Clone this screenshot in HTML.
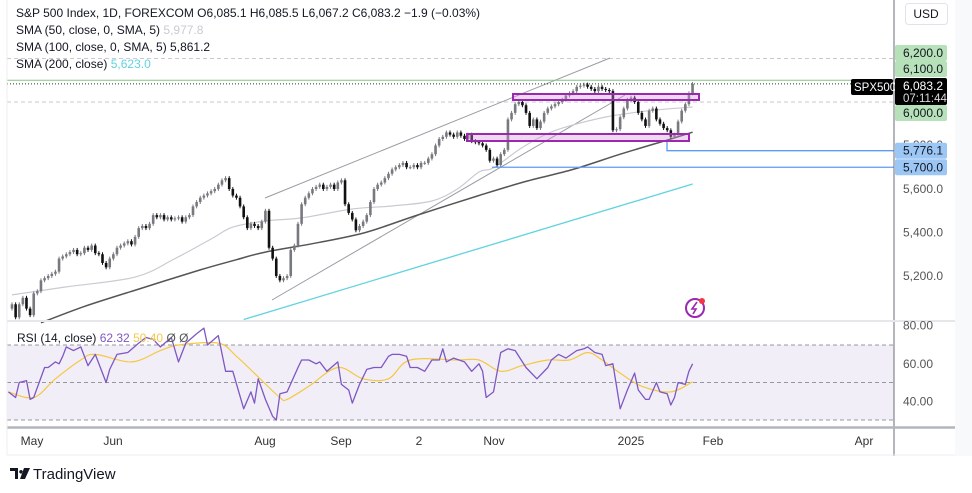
<!DOCTYPE html>
<html><head><meta charset="utf-8"><style>
body{margin:0;background:#fff;width:972px;height:488px;overflow:hidden;font-family:"Liberation Sans",sans-serif}
svg text{font-family:"Liberation Sans",sans-serif}
</style></head><body>
<svg id="c" width="972" height="488" xmlns="http://www.w3.org/2000/svg">
<rect x="0" y="0" width="972" height="488" fill="#fff"/>
<rect x="955" y="0" width="17" height="456" fill="#f8f9fb"/>
<rect x="7" y="345" width="887" height="75" fill="#f1eef8"/>
<g id="grid"></g>
<g id="marks"></g>
<g id="overlay"></g>
<line x1="894" y1="0" x2="894" y2="456" stroke="#6a6d78" stroke-width="1"/>
<line x1="7" y1="321" x2="955" y2="321" stroke="#e6e7ea" stroke-width="2"/>
<line x1="7" y1="427.5" x2="955" y2="427.5" stroke="#b2b5be" stroke-width="2.5"/>
<line x1="7" y1="455" x2="955" y2="455" stroke="#eceef1" stroke-width="1"/>
<line x1="7" y1="0" x2="7" y2="455" stroke="#eceef1" stroke-width="1"/>
<g id="axis"></g>
<g font-size="12" fill="#131722">
<text x="16" y="17">S&amp;P 500 Index, 1D, FOREXCOM  O6,085.1  H6,085.5  L6,067.2  C6,083.2  −1.9 (−0.03%)</text>
<text x="16" y="34">SMA (50, close, 0, SMA, 5) <tspan fill="#c9cbd1">5,977.8</tspan></text>
<text x="16" y="51">SMA (100, close, 0, SMA, 5)  5,861.2</text>
<text x="16" y="68">SMA (200, close)  <tspan fill="#5fd3e0">5,623.0</tspan></text>
<text x="17" y="342">RSI (14, close) <tspan fill="#7e57c2">62.32</tspan> <tspan fill="#f2c94c">50.40</tspan> <tspan fill="#555">Ø  Ø</tspan></text>
</g>
<g>
<rect x="905.5" y="3.5" width="42" height="21" rx="3" fill="#fff" stroke="#e0e3eb"/>
<text x="926" y="18" font-size="12" text-anchor="middle" fill="#131722">USD</text>
</g>
<g>
<circle cx="695" cy="308" r="9" fill="none" stroke="#9c27b0" stroke-width="2"/>
<path d="M697 302 L692 309 L696 309 L693 314" fill="none" stroke="#9c27b0" stroke-width="1.6"/>
<circle cx="702" cy="301" r="3" fill="#f23645"/>
</g>
<g>
<path d="M10 468h8v11h-3v-8h-5z M21 470a1.8 1.8 0 1 0 0.01 0z M24 468h6l-5 11h-5z" fill="#131722"/>
<text x="33" y="479" font-size="15" fill="#131722">TradingView</text>
</g>
</svg>
<script>
const closes=[5070,5010,5070,5100,5050,5020,5120,5130,5180,5190,
5200,5210,5220,5280,5290,5300,5310,5320,5300,5305,
5330,5320,5340,5305,5300,5260,5240,5280,5300,5330,
5340,5350,5360,5345,5380,5420,5430,5420,5440,5480,
5470,5480,5460,5470,5460,5465,5470,5450,5470,5480,
5520,5540,5560,5570,5580,5590,5600,5620,5640,5650,
5600,5570,5560,5520,5470,5420,5440,5430,5420,5450,
5500,5330,5280,5200,5180,5190,5200,5320,5340,5440,
5530,5560,5580,5600,5610,5620,5600,5610,5620,5600,
5630,5640,5530,5490,5460,5410,5430,5450,5480,5540,
5600,5620,5630,5650,5670,5690,5700,5710,5720,5700,
5700,5710,5700,5720,5720,5740,5760,5800,5830,5840,
5860,5850,5840,5860,5845,5830,5850,5820,5815,5810,
5800,5780,5730,5740,5710,5760,5780,5920,5950,5990,
6000,5985,5950,5890,5920,5880,5910,5950,5970,5980,
5990,6000,6010,6030,6040,6050,6070,6075,6080,6070,
6060,6050,6070,6060,6055,6050,5870,5875,5930,5970,
6010,6020,6000,5950,5920,5890,5960,5970,5920,5900,
5880,5870,5840,5850,5910,5960,5990,6040,6083];
const sma50Idx=[0,15,34,45,55,61,70,80,94,105,116,123,129,133,140,146,152,164,176,188];
const sma50Val=[5113,5150,5195,5280,5370,5425,5453,5467,5508,5522,5545,5600,5678,5697,5780,5839,5880,5931,5960,5977];
const sma100Idx=[8,20,35,52,62,70,85,98,112,129,142,155,168,181,188];
const sma100Val=[4985,5060,5140,5228,5275,5310,5355,5402,5480,5570,5635,5690,5760,5825,5861];
const sma200Idx=[64,188];
const sma200Val=[5000,5623];
const rsiIdx=[-1,1,2,4,5,6,9,10,12,13,14,15,17,19,21,23,26,27,29,32,35,37,39,41,44,46,48,51,53,54,57,59,61,64,66,67,68,70,72,73,74,76,79,80,82,84,85,87,90,91,93,94,96,98,100,102,104,105,107,109,110,112,114,116,118,119,120,122,125,127,129,130,131,133,135,137,139,142,145,148,149,151,153,156,158,159,161,163,164,166,168,170,172,173,175,176,178,179,181,182,183,184,186,187,188];
const rsiVal=[45,42,50,51,41,42,58,58,61,60,64,69,67,69,59,65,50,57,65,66,71,74,73,69,74,61,71,76,79,70,75,56,56,36,45,39,52,41,32,30,44,45,58,62,62,60,61,56,61,49,46,39,49,57,58,58,64,65,65,64,58,58,56,62,62,68,61,63,61,56,60,56,42,45,66,68,67,58,52,58,62,65,63,67,68,69,66,65,59,60,36,46,55,46,41,41,50,45,44,38,42,50,49,56,60,62.32];
const rsiMaIdx=[-1,6,12,19,23,33,41,46,57,62,68,74,76,82,90,97,104,110,123,129,135,141,148,154,159,163,168,174,182,188];
const rsiMaVal=[45,42,52,62,65,61,67,70,71,64,53,42,41,48,58,52,52,62,62,62,56,59,62,62,66,62,55,48,45,50.4];
const priceTicks=[5200,5400,5600];
const rsiTicks=[80,60,40];
const timeLabels=["May","Jun","Aug","Sep","2","Nov","2025","Feb","Apr"];
const timeX=[32,113,265,341,419,494,631,713,864];

const NS="http://www.w3.org/2000/svg";
const xB=i=>12+i*3.62;
const yP=p=>189-(p-5600)*0.2175;
const yR=v=>345+(70-v)*1.875;
function mk(tag,attrs,parent){const e=document.createElementNS(NS,tag);for(const k in attrs)e.setAttribute(k,attrs[k]);parent.appendChild(e);return e;}
const marks=document.getElementById('marks'),ov=document.getElementById('overlay'),ax=document.getElementById('axis'),grid=document.getElementById('grid');

[[yP(6200),'#c8cad0'],[yP(6000),'#c8cad0'],[yR(70),'#9598a1'],[yR(50),'#9598a1'],[yR(30),'#9598a1']].forEach(([y,c])=>{
 const l=mk('line',{x1:7,x2:894,y1:y,y2:y,stroke:c,'stroke-dasharray':'4 3','stroke-width':1},grid);
 
 
});

[[265,198,610,58],[272,300,625,95]].forEach(a=>{
 const l=mk('line',{x1:a[0],y1:a[1],x2:a[2],y2:a[3],stroke:'#9a9ca3','stroke-width':1},marks);
 
 
});

function smoothPath(pts){
 let d='M'+pts[0][0].toFixed(1)+','+pts[0][1].toFixed(1);
 for(let i=0;i<pts.length-1;i++){
  const p0=pts[i-1]||pts[i],p1=pts[i],p2=pts[i+1],p3=pts[i+2]||p2;
  const c1=[p1[0]+(p2[0]-p0[0])/6,p1[1]+(p2[1]-p0[1])/6];
  const c2=[p2[0]-(p3[0]-p1[0])/6,p2[1]-(p3[1]-p1[1])/6];
  d+=` C${c1[0].toFixed(1)},${c1[1].toFixed(1)} ${c2[0].toFixed(1)},${c2[1].toFixed(1)} ${p2[0].toFixed(1)},${p2[1].toFixed(1)}`;
 }
 return d;
}
function curve(idx,val,yf,color,w,name,parent){
 const pts=idx.map((d,k)=>[xB(d),yf(val[k])]);
 const p=mk('path',{d:smoothPath(pts),fill:'none',stroke:color,'stroke-width':w},parent);
 
 
}
function poly(idx,val,yf,color,w,name,parent){
 const pts=idx.map((d,k)=>xB(d).toFixed(1)+','+yf(val[k]).toFixed(1)).join(' ');
 const p=mk('polyline',{points:pts,fill:'none',stroke:color,'stroke-width':w,'stroke-linejoin':'round'},parent);
 
 
}
curve(sma200Idx,sma200Val,yP,'#5fd3e0',1.3,'sma200-line',marks);
curve(sma100Idx,sma100Val,yP,'#555',1.5,'sma100-line',marks);
curve(sma50Idx,sma50Val,yP,'#c9cbd1',1.2,'sma50-line',marks);

closes.forEach((c,i)=>{
 const o=i?closes[i-1]:c-20;
 const hi=Math.max(o,c)+9,lo=Math.min(o,c)-9,x=xB(i);
 const col=c>=o?'#77797f':'#111';
 const w=mk('line',{x1:x,x2:x,y1:yP(hi),y2:yP(lo),stroke:col,'stroke-width':1},marks);
 
 
 const top=yP(Math.max(o,c)),h=Math.max(1,yP(Math.min(o,c))-top);
 const b=mk('rect',{x:x-1.3,y:top,width:2.6,height:h,fill:col},marks);
 
 
});

let g=mk('line',{x1:7,x2:894,y1:yP(6100),y2:yP(6100),stroke:'#81c784','stroke-width':1},ov);


g=mk('line',{x1:7,x2:894,y1:yP(6083.2),y2:yP(6083.2),stroke:'#333','stroke-width':1,'stroke-dasharray':'1 2'},ov);


g=mk('polyline',{points:`667,141 667,${yP(5776.1)} 894,${yP(5776.1)}`,fill:'none',stroke:'#5b9cf6','stroke-width':1.3},ov);


g=mk('line',{x1:492,x2:894,y1:yP(5700),y2:yP(5700),stroke:'#5b9cf6','stroke-width':1.3},ov);


[[513,94,186,6],[467,134,222,7]].forEach(r=>{
 const e=mk('rect',{x:r[0],y:r[1],width:r[2],height:r[3],fill:'rgba(206,147,216,0.35)',stroke:'#9c27b0','stroke-width':2},ov);
 
 
});

curve(rsiMaIdx,rsiMaVal,yR,'#f5c842',1.2,'rsi-ma-line',ov);
poly(rsiIdx,rsiVal,yR,'#7e57c2',1.3,'rsi-line',ov);

function lab(y,txt,bg,fg,name){
 if(bg){const r=mk('rect',{x:895,y:y-8,width:52,height:16,rx:2,fill:bg},ax);
  
  }
 const t=mk('text',{x:903,y:y+4,'font-size':12,fill:fg},ax);t.textContent=txt;
 
 
}
priceTicks.forEach(p=>lab(yP(p),p.toLocaleString('en-US',{minimumFractionDigits:1}),null,'#555','price-tick'));
lab(145,'5,900.0',null,'#555','price-tick');
lab(53,'6,200.0','#b7e1b9','#131722','label-6200');
lab(69,'6,100.0','#b7e1b9','#131722','label-6100');
lab(113,'6,000.0','#b7e1b9','#131722','label-6000');
lab(yP(5776.1),'5,776.1','#9cc7f5','#131722','label-5776');
lab(yP(5700),'5,700.0','#9cc7f5','#131722','label-5700');
rsiTicks.forEach(v=>lab(yR(v)+(v==80?-1:0),v.toFixed(2),null,'#555','rsi-tick'));
let r=mk('rect',{x:851,y:79,width:42,height:16,rx:2,fill:'#000'},ax);


let t=mk('text',{x:854,y:91,'font-size':11.5,fill:'#fff'},ax);t.textContent='SPX500';


r=mk('rect',{x:895,y:78,width:52,height:27,rx:2,fill:'#000'},ax);


t=mk('text',{x:903,y:90,'font-size':12,fill:'#fff'},ax);t.textContent='6,083.2';


t=mk('text',{x:903,y:102,'font-size':11.5,fill:'#ddd'},ax);t.textContent='07:11:44';


timeLabels.forEach((s,k)=>{
 const e=mk('text',{x:timeX[k],y:445,'font-size':12,fill:'#333','text-anchor':'middle'},ax);e.textContent=s;
 
 
});
</script>
</body></html>
